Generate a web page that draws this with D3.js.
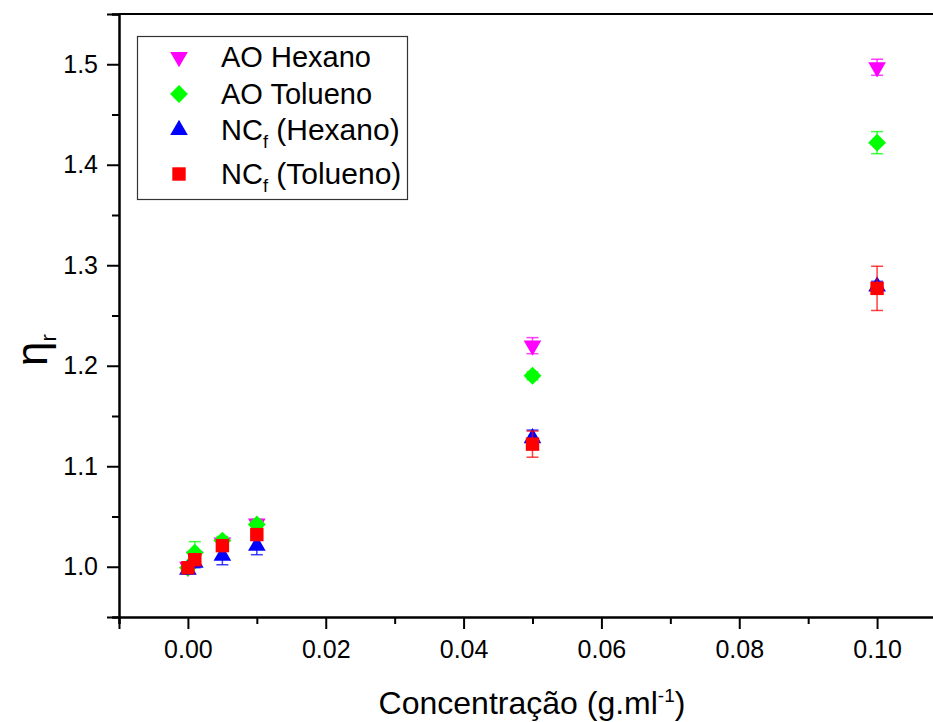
<!DOCTYPE html>
<html>
<head>
<meta charset="utf-8">
<script src="https://cdn.jsdelivr.net/npm/d3@7"></script>
<style>
  body { margin: 0; background: #fff; }
  text { font-family: "Liberation Sans", Arial, sans-serif; }
</style>
</head>
<body>
<div id="chart"></div>
<script>
// concentrations (g/ml)
var conc = [0, 0.001, 0.005, 0.01, 0.05, 0.1];

var aoHexano = [1.000, 1.010, 1.024, 1.043, 1.220, 1.497];
var aoHexanoErr = [0.003, 0.004, 0.004, 0.004, 0.008, 0.008];
var aoTolueno = [0.999, 1.014, 1.026, 1.042, 1.190, 1.422];
var aoToluenoErr = [0.003, 0.011, 0.004, 0.004, 0.004, 0.011];
var ncHexano = [0.997, 1.004, 1.011, 1.021, 1.128, 1.279];
var ncHexanoErr = [0.004, 0.005, 0.009, 0.009, 0.008, 0.005];
var ncTolueno = [0.999, 1.007, 1.021, 1.032, 1.122, 1.277];
var ncToluenoErr = [0.003, 0.004, 0.004, 0.004, 0.013, 0.022];

var xTicks = [0, 0.02, 0.04, 0.06, 0.08, 0.10];
var yTicks = [1.0, 1.1, 1.2, 1.3, 1.4, 1.5];

var W = 933, H = 722;
var margin = {top: 14, left: 119};
var plotRight = 946, plotBottom = 617;

var svg = d3.select("#chart").append("svg")
  .attr("width", W).attr("height", H);

var x = d3.scaleLinear().domain([-0.01, 0.11]).range([margin.left, plotRight]);
var y = d3.scaleLinear().domain([0.95, 1.55]).range([plotBottom, margin.top]);

// series definitions
var series = [
  {name: "AO Hexano", vals: aoHexano, err: aoHexanoErr, color: "#ff00ff", shape: "down"},
  {name: "AO Tolueno", vals: aoTolueno, err: aoToluenoErr, color: "#00ff00", shape: "diamond"},
  {name: "NC", sub: "f", rest: " (Hexano)", vals: ncHexano, err: ncHexanoErr, color: "#0000ff", shape: "up"},
  {name: "NC", sub: "f", rest: " (Tolueno)", vals: ncTolueno, err: ncToluenoErr, color: "#ff0000", shape: "square"}
];

function symbolPath(shape) {
  if (shape === "up" || shape === "down") return d3.symbol().type(d3.symbolTriangle).size(135)();
  if (shape === "diamond") return d3.symbol().type(d3.symbolSquare).size(160)();
  return d3.symbol().type(d3.symbolSquare).size(180)();
}
function symbolRot(shape) {
  if (shape === "down") return 180;
  if (shape === "diamond") return 45;
  return 0;
}

// axes
var axisColor = "#000";
var xAxis = svg.append("g").attr("transform", "translate(0," + plotBottom + ")")
  .call(d3.axisBottom(x).tickValues(xTicks).tickFormat(d3.format(".2f")).tickSize(12).tickPadding(4));
var xMinor = svg.append("g").attr("transform", "translate(0," + plotBottom + ")")
  .call(d3.axisBottom(x).tickValues([-0.01, 0.01, 0.03, 0.05, 0.07, 0.09]).tickSize(7).tickFormat(""));
var yAxis = svg.append("g").attr("transform", "translate(" + margin.left + ",0)")
  .call(d3.axisLeft(y).tickValues(yTicks).tickFormat(d3.format(".1f")).tickSize(12).tickPadding(9));
var yMinor = svg.append("g").attr("transform", "translate(" + margin.left + ",0)")
  .call(d3.axisLeft(y).tickValues([0.95, 1.05, 1.15, 1.25, 1.35, 1.45, 1.55]).tickSize(7).tickFormat(""));

[xAxis, xMinor, yAxis, yMinor].forEach(function(g) {
  g.select(".domain").attr("stroke", axisColor).attr("stroke-width", 2);
  g.selectAll(".tick line").attr("stroke", axisColor).attr("stroke-width", 2);
  g.selectAll(".tick text").attr("fill", "#000").style("font-size", "25px");
});
xAxis.selectAll(".tick text").attr("dy", "1.0em");

// top border
svg.append("line")
  .attr("x1", margin.left).attr("x2", plotRight)
  .attr("y1", margin.top).attr("y2", margin.top)
  .attr("stroke", axisColor).attr("stroke-width", 2);

// data: error bars then markers
series.forEach(function(s) {
  var g = svg.append("g");
  var pts = conc.map(function(c, i) { return {c: c, v: s.vals[i], e: s.err[i]}; });
  var eb = g.selectAll(".eb").data(pts).enter().append("g").attr("class", "eb")
    .attr("stroke", s.color).attr("stroke-opacity", 0.75).attr("stroke-width", 1.5);
  eb.append("line")
    .attr("x1", function(d) { return x(d.c); }).attr("x2", function(d) { return x(d.c); })
    .attr("y1", function(d) { return y(d.v - d.e); }).attr("y2", function(d) { return y(d.v + d.e); });
  eb.append("line")
    .attr("x1", function(d) { return x(d.c) - 6; }).attr("x2", function(d) { return x(d.c) + 6; })
    .attr("y1", function(d) { return y(d.v + d.e); }).attr("y2", function(d) { return y(d.v + d.e); });
  eb.append("line")
    .attr("x1", function(d) { return x(d.c) - 6; }).attr("x2", function(d) { return x(d.c) + 6; })
    .attr("y1", function(d) { return y(d.v - d.e); }).attr("y2", function(d) { return y(d.v - d.e); });
  g.selectAll(".pt").data(pts).enter().append("path").attr("class", "pt")
    .attr("d", symbolPath(s.shape))
    .attr("fill", s.color)
    .attr("transform", function(d) {
      return "translate(" + x(d.c) + "," + y(d.v) + ") rotate(" + symbolRot(s.shape) + ")";
    });
});

// legend
var legend = svg.append("g");
legend.append("rect")
  .attr("x", 137.5).attr("y", 36.5).attr("width", 270).attr("height", 163)
  .attr("fill", "#fff").attr("stroke", "#333").attr("stroke-width", 1.2);
var rowY = [57, 94, 130, 174];
series.forEach(function(s, i) {
  legend.append("path")
    .attr("d", symbolPath(s.shape))
    .attr("fill", s.color)
    .attr("transform", "translate(179," + rowY[i] + ") rotate(" + symbolRot(s.shape) + ")");
  var t = legend.append("text")
    .attr("x", 221).attr("y", rowY[i] + 10)
    .style("font-size", "29px").attr("fill", "#000");
  t.append("tspan").text(s.name);
  if (s.sub) {
    t.append("tspan").attr("dy", 8).style("font-size", "18px").text(s.sub);
    t.append("tspan").attr("dy", -8).style("font-size", "30px").text(s.rest);
  }
});

// axis titles
var xt = svg.append("text")
  .attr("x", 532).attr("y", 714).attr("text-anchor", "middle")
  .style("font-size", "32px").attr("fill", "#000");
xt.append("tspan").text("Concentração (g.ml");
xt.append("tspan").attr("dy", -12).style("font-size", "19px").text("-1");
xt.append("tspan").attr("dy", 12).text(")");

var yt = svg.append("text")
  .attr("transform", "translate(47,350) rotate(-90)")
  .attr("text-anchor", "middle")
  .style("font-size", "44px").attr("fill", "#000");
yt.append("tspan").text("η");
yt.append("tspan").attr("dy", 9).style("font-size", "22px").text("r");
</script>
</body>
</html>
